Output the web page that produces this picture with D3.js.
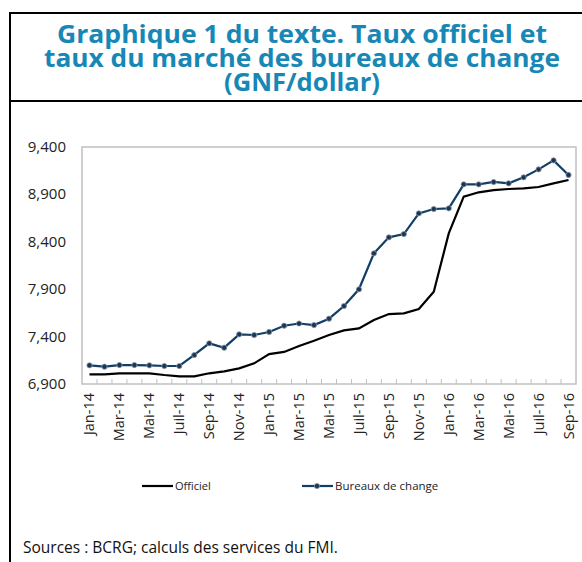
<!DOCTYPE html>
<html>
<head>
<meta charset="utf-8">
<script src="https://cdn.jsdelivr.net/npm/d3@7"></script>
<style>
  body { margin: 0; background: #fff; }
  svg { display: block; font-family: "Open Sans", "Noto Sans", sans-serif; }
</style>
</head>
<body>
<div id="chart"></div>
<script>
// months Jan-14 .. Sep-16
var months = ["Jan-14","Fév-14","Mar-14","Avr-14","Mai-14","Juin-14","Juil-14","Aoû-14","Sep-14","Oct-14","Nov-14","Déc-14",
              "Jan-15","Fév-15","Mar-15","Avr-15","Mai-15","Juin-15","Juil-15","Aoû-15","Sep-15","Oct-15","Nov-15","Déc-15",
              "Jan-16","Fév-16","Mar-16","Avr-16","Mai-16","Juin-16","Juil-16","Aoû-16","Sep-16"];

var officiel = [7002, 7002, 7013, 7013, 7013, 6995, 6981, 6981, 7013, 7034, 7065, 7118,
                7216, 7238, 7301, 7357, 7417, 7466, 7487, 7575, 7638, 7645, 7691, 7874,
                8489, 8876, 8922, 8946, 8957, 8964, 8978, 9017, 9052];

var bureaux = [7097, 7083, 7100, 7100, 7097, 7090, 7090, 7206, 7329, 7283, 7424, 7417,
               7449, 7515, 7538, 7522, 7589, 7723, 7899, 8278, 8447, 8482, 8700, 8746,
               8753, 9006, 9006, 9031, 9017, 9080, 9164, 9259, 9105];

var yTicks = [6900, 7400, 7900, 8400, 8900, 9400];

var seriesNames = ["Officiel", "Bureaux de change"];

var width = 582, height = 562;
var plot = {left: 82, right: 576, top: 147, bottom: 384};
var blue = "#123f66";

var svg = d3.select("#chart").append("svg")
    .attr("width", width)
    .attr("height", height);

svg.append("rect").attr("width", width).attr("height", height).attr("fill", "#fff");

// frame around title + chart
svg.append("path")
    .attr("d", "M10,562 V13 H590 M10,101 H590")
    .attr("fill", "none")
    .attr("stroke", "#000")
    .attr("stroke-width", 2);

// title, widths
var titleLines = ["Graphique 1 du texte. Taux officiel et", "taux du marché des bureaux de change", "(GNF/dollar)"];
var titleWidths = [490, 516, 156];
svg.append("g").selectAll("text")
    .data(titleLines)
    .enter().append("text")
    .attr("x", 302)
    .attr("y", function (d, i) { return 43 + i * 24; })
    .attr("text-anchor", "middle")
    .attr("font-size", 25)
    .attr("font-weight", "bold")
    .attr("fill", "#1787b6")
    .attr("textLength", function (d, i) { return titleWidths[i]; })
    .attr("lengthAdjust", "spacingAndGlyphs")
    .text(function (d) { return d; });

var x = d3.scaleBand()
    .domain(months)
    .range([plot.left, plot.right]);

var y = d3.scaleLinear()
    .domain([6900, 9400])
    .range([plot.bottom, plot.top]);

// plot border
svg.append("rect")
    .attr("x", plot.left)
    .attr("y", plot.top)
    .attr("width", plot.right - plot.left)
    .attr("height", plot.bottom - plot.top)
    .attr("fill", "none")
    .attr("stroke", "#c0c0c0")
    .attr("stroke-width", 1.5);

// category ticks (inside, between months)
svg.append("g").selectAll("line")
    .data(months.slice(1))
    .enter().append("line")
    .attr("x1", function (d) { return x(d); })
    .attr("x2", function (d) { return x(d); })
    .attr("y1", plot.bottom)
    .attr("y2", plot.bottom - 5)
    .attr("stroke", "#c0c0c0")
    .attr("stroke-width", 1);

// y labels
svg.append("g").selectAll("text")
    .data(yTicks)
    .enter().append("text")
    .attr("x", 66)
    .attr("y", function (d) { return y(d) + 5; })
    .attr("text-anchor", "end")
    .attr("font-size", 15)
    .attr("fill", "#222")
    .text(d3.format(","));

// x labels every 2 months
svg.append("g").selectAll("text")
    .data(months.filter(function (d, i) { return i % 2 === 0; }))
    .enter().append("text")
    .attr("transform", function (d) {
        return "translate(" + (x(d) + x.bandwidth() / 2 + 5) + "," + (plot.bottom + 9) + ") rotate(-90)";
    })
    .attr("text-anchor", "end")
    .attr("font-size", 14.5)
    .attr("fill", "#222")
    .text(function (d) { return d; });

var line = d3.line()
    .x(function (d, i) { return x(months[i]) + x.bandwidth() / 2; })
    .y(function (d) { return y(d); });

svg.append("path")
    .datum(officiel)
    .attr("d", line)
    .attr("fill", "none")
    .attr("stroke", "#000")
    .attr("stroke-width", 2.2);

svg.append("path")
    .datum(bureaux)
    .attr("d", line)
    .attr("fill", "none")
    .attr("stroke", blue)
    .attr("stroke-width", 2.2);

svg.append("g").selectAll("circle")
    .data(bureaux)
    .enter().append("circle")
    .attr("cx", function (d, i) { return x(months[i]) + x.bandwidth() / 2; })
    .attr("cy", function (d) { return y(d); })
    .attr("r", 2.6)
    .attr("fill", "#1d3550")
    .attr("stroke", "#8a98a8")
    .attr("stroke-width", 0.8);

// legend
var legend = svg.append("g");
legend.append("line")
    .attr("x1", 142).attr("x2", 173).attr("y1", 486).attr("y2", 486)
    .attr("stroke", "#000").attr("stroke-width", 2.2);
legend.append("text")
    .attr("x", 175).attr("y", 490)
    .attr("font-size", 11).attr("fill", "#222")
    .text(seriesNames[0]);
legend.append("line")
    .attr("x1", 302).attr("x2", 333).attr("y1", 486).attr("y2", 486)
    .attr("stroke", blue).attr("stroke-width", 2.2);
legend.append("circle")
    .attr("cx", 317).attr("cy", 486).attr("r", 2.6)
    .attr("fill", "#1d3550").attr("stroke", "#8a98a8").attr("stroke-width", 0.8);
legend.append("text")
    .attr("x", 335).attr("y", 490)
    .attr("font-size", 11.5).attr("fill", "#222")
    .text(seriesNames[1]);

svg.append("text")
    .attr("x", 23)
    .attr("y", 553)
    .attr("font-size", 15.5)
    .attr("fill", "#111")
    .text("Sources : BCRG; calculs des services du FMI.");
</script>
</body>
</html>
